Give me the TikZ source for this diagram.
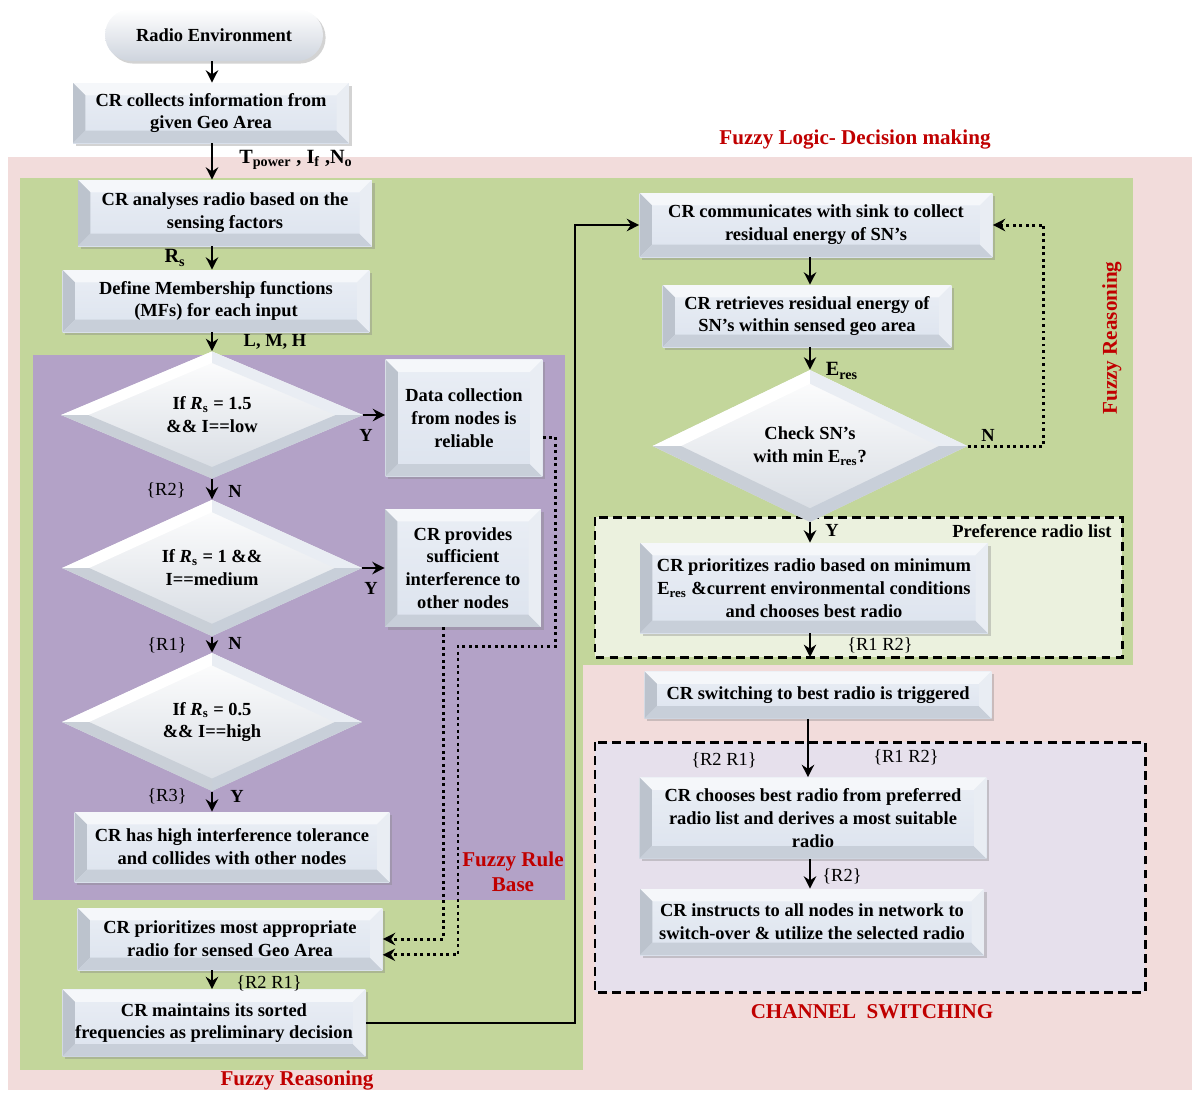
\documentclass[tikz,border=0pt]{standalone}
\usepackage{fontspec}
\setmainfont{Liberation Serif}
\usepackage{tikz}
\usetikzlibrary{arrows.meta,calc,positioning,shapes.geometric,shadows}
\definecolor{ZonePink}{HTML}{F2DCDB}
\definecolor{ZoneGreen}{HTML}{C3D69B}
\definecolor{ZonePurple}{HTML}{B3A2C7}
\definecolor{ListBG}{HTML}{EBF1DE}
\definecolor{SwitchBG}{HTML}{E6E0EC}
\definecolor{BoxFace}{HTML}{DCE3EE}
\definecolor{BevTop}{HTML}{F5F7FA}
\definecolor{BevLeft}{HTML}{BCC3CD}
\definecolor{BevBot}{HTML}{C8CFD9}
\definecolor{BevRight}{HTML}{E9EDF3}
\definecolor{DiaLow}{HTML}{D6DBE2}
\definecolor{TitleRed}{HTML}{C00000}
\newcommand{\ppbb}{path picture bounding box}

\begin{document}
\begin{tikzpicture}[
  x=0.02cm,y=-0.02cm,
  font=\fontsize{10.5}{13}\selectfont\bfseries,
  box/.style={
    rectangle,top color=BoxFace!60!white,bottom color=BoxFace,align=center,inner sep=2pt,
    drop shadow={shadow xshift=1.5pt,shadow yshift=-1.5pt,opacity=.35},
    path picture={
      \fill[BevTop] (\ppbb.north west) -- (\ppbb.north east)
        -- ([shift={(-7pt,-7pt)}]\ppbb.north east) -- ([shift={(7pt,-7pt)}]\ppbb.north west) -- cycle;
      \fill[BevLeft] (\ppbb.north west) -- (\ppbb.south west)
        -- ([shift={(7pt,7pt)}]\ppbb.south west) -- ([shift={(7pt,-7pt)}]\ppbb.north west) -- cycle;
      \fill[BevBot] (\ppbb.south west) -- (\ppbb.south east)
        -- ([shift={(-7pt,7pt)}]\ppbb.south east) -- ([shift={(7pt,7pt)}]\ppbb.south west) -- cycle;
      \fill[BevRight] (\ppbb.north east) -- (\ppbb.south east)
        -- ([shift={(-7pt,7pt)}]\ppbb.south east) -- ([shift={(-7pt,-7pt)}]\ppbb.north east) -- cycle;
    }
  },
  decision/.style={
    diamond,inner sep=0pt,align=center,top color=white,bottom color=DiaLow,
    path picture={
      \fill[white] (\ppbb.west) -- (\ppbb.north)
        -- ($(\ppbb.center)!.82!(\ppbb.north)$) -- ($(\ppbb.center)!.82!(\ppbb.west)$) -- cycle;
      \fill[BevRight] (\ppbb.north) -- (\ppbb.east)
        -- ($(\ppbb.center)!.82!(\ppbb.east)$) -- ($(\ppbb.center)!.82!(\ppbb.north)$) -- cycle;
      \fill[BevBot] (\ppbb.east) -- (\ppbb.south)
        -- ($(\ppbb.center)!.82!(\ppbb.south)$) -- ($(\ppbb.center)!.82!(\ppbb.east)$) -- cycle;
      \fill[BevLeft!80!white] (\ppbb.south) -- (\ppbb.west)
        -- ($(\ppbb.center)!.82!(\ppbb.west)$) -- ($(\ppbb.center)!.82!(\ppbb.south)$) -- cycle;
    }
  },
  terminal/.style={
    rectangle,rounded corners=0.52cm,top color=white,bottom color=BoxFace!85!gray,
    align=center,drop shadow={shadow xshift=1.5pt,shadow yshift=-1.5pt,opacity=.35}
  },
  flow/.style={draw,line width=1.5pt,-{Stealth[length=7pt,width=7pt]}},
  back/.style={draw,line width=1.7pt,dotted,-{Stealth[length=7pt,width=7pt]}},
  lab/.style={inner sep=1pt},
  rlab/.style={inner sep=1pt,font=\fontsize{10.5}{13}\selectfont},
  zonetitle/.style={text=TitleRed,align=center,font=\fontsize{12}{14}\selectfont\bfseries},
  listbox/.style={draw,dashed,dash pattern=on 5pt off 3pt,line width=1.7pt}
]
  \useasboundingbox (0,0) rectangle (1194,1093);

  % zones
  \fill[ZonePink] (8,157) rectangle (1192,1090);
  \fill[ZoneGreen] (20,178) rectangle (583,1070);
  \fill[ZoneGreen] (583,178) rectangle (1133,665);
  \fill[ZonePurple] (33,355) rectangle (565,900);
  \draw[listbox,fill=ListBG] (595,517) rectangle (1122,657);
  \draw[listbox,fill=SwitchBG] (595,742) rectangle (1145,992);

  % left column
  \node[terminal,minimum width=4.36cm,minimum height=1.04cm] (env) at (214,35) {Radio Environment};
  \node[box,minimum width=5.52cm,minimum height=1.2cm] (collect) at (211,113)
    {CR collects information from\\given Geo Area};
  \node[box,minimum width=5.88cm,minimum height=1.32cm] (analyse) at (225,213)
    {CR analyses radio based on the\\sensing factors};
  \node[box,minimum width=6.14cm,minimum height=1.24cm] (mf) at (216,301)
    {Define Membership functions\\(MFs) for each input};
  \node[decision,minimum width=6.04cm,minimum height=2.52cm] (d1) at (212,415)
    {If \textit{R}\textsubscript{s} = 1.5\\\&\& I==low};
  \node[box,minimum width=3.14cm,minimum height=2.34cm] (rel) at (464,418)
    {Data collection\\from nodes is\\reliable};
  \node[decision,minimum width=6cm,minimum height=2.6cm] (d2) at (212,568)
    {If \textit{R}\textsubscript{s} = 1 \&\&\\I==medium};
  \node[box,minimum width=3.12cm,minimum height=2.36cm] (suff) at (463,568)
    {CR provides\\sufficient\\interference to\\other nodes};
  \node[decision,minimum width=6cm,minimum height=2.64cm] (d3) at (212,722)
    {If \textit{R}\textsubscript{s} = 0.5\\\&\& I==high};
  \node[box,minimum width=6.3cm,minimum height=1.4cm] (tol) at (232,847)
    {CR has high interference tolerance\\and collides with other nodes};
  \node[box,minimum width=6.1cm,minimum height=1.24cm] (most) at (230,939)
    {CR prioritizes most appropriate\\radio for sensed Geo Area};
  \node[box,minimum width=6.06cm,minimum height=1.34cm] (sorted) at (214,1023)
    {CR maintains its sorted\\frequencies as preliminary decision};

  % right column
  \node[box,minimum width=7.06cm,minimum height=1.28cm] (sink) at (816,225)
    {CR communicates with sink to collect\\residual energy of SN’s};
  \node[box,minimum width=5.78cm,minimum height=1.24cm] (resid) at (807,316)
    {CR retrieves residual energy of\\SN’s within sensed geo area};
  \node[decision,minimum width=6.3cm,minimum height=2.8cm] (d4) at (810,446)
    {Check SN’s\\with min E\textsubscript{res}?};
  \node[box,minimum width=6.96cm,minimum height=1.8cm] (prio) at (814,588)
    {CR prioritizes radio based on minimum\\E\textsubscript{res} \&current environmental conditions\\and chooses best radio};
  \coordinate (listbot) at (810,657);
  \node[box,minimum width=6.94cm,minimum height=0.94cm] (trig) at (818,695)
    {CR switching to best radio is triggered};
  \node[box,minimum width=6.94cm,minimum height=1.62cm] (choose) at (813,818)
    {CR chooses best radio from preferred\\radio list and derives a most suitable\\radio};
  \node[box,minimum width=6.88cm,minimum height=1.32cm] (instruct) at (812,922)
    {CR instructs to all nodes in network to\\switch-over \& utilize the selected radio};

  % connectors
  \draw[flow] (env.south -| d1.north) -- (collect.north -| d1.north);
  \draw[flow] (collect.south -| d1.north) -- (analyse.north -| d1.north);
  \draw[flow] (analyse.south -| d1.north) -- (mf.north -| d1.north);
  \draw[flow] (mf.south -| d1.north) -- (d1.north);
  \draw[flow] (d1.south) -- (d2.north);
  \draw[flow] (d2.south) -- (d3.north);
  \draw[flow] (d3.south) -- (tol.north -| d3.south);
  \draw[flow] (d1.east) -- (d1.east -| rel.west);
  \draw[flow] (d2.east) -- (d2.east -| suff.west);
  \draw[back] ([yshift=-11pt]rel.east) -- ++(13,0) |- (458,646) |- ([yshift=-9pt]most.east);
  \draw[back] ([xshift=-11.3pt]suff.south) |- (most.east);
  \draw[flow] (most.south -| d1.north) -- (sorted.north -| d1.north);
  \draw[flow] (sorted.east) -- ++(209,0) |- (sink.west);
  \draw[flow] (sink.south -| d4.north) -- (resid.north -| d4.north);
  \draw[flow] (resid.south -| d4.north) -- (d4.north);
  \draw[back] (d4.east) -- ++(76,0) |- (sink.east);
  \draw[flow] (d4.south) -- (prio.north -| d4.south);
  \draw[flow] (prio.south -| listbot) -- (listbot);
  \draw[flow] ([xshift=-5.7pt]trig.south) -- ([xshift=-5.7pt]trig.south |- choose.north);
  \draw[flow] (choose.south -| d4.south) -- (instruct.north -| d4.south);

  % labels
  \node[lab,font=\fontsize{11.5}{13}\selectfont\bfseries] (lpow) at (296,160)
    {T\textsubscript{power} , I\textsubscript{f} ,N\textsubscript{o}};
  \node[lab,font=\fontsize{11.5}{13}\selectfont\bfseries] (lrs) at (175,258) {R\textsubscript{s}};
  \node[lab] (llmh) at (275,342) {L, M, H};
  \node[lab] (ly1) at (366,435) {Y};
  \node[rlab] (lr2) at (166,490) {\{R2\}};
  \node[lab] (ln1) at (235,491) {N};
  \node[lab] (ly2) at (371,588) {Y};
  \node[rlab] (lr1) at (167,645) {\{R1\}};
  \node[lab] (ln2) at (235,643) {N};
  \node[rlab] (lr3) at (167,796) {\{R3\}};
  \node[lab] (ly3) at (237,796) {Y};
  \node[rlab] (lr21a) at (269,983) {\{R2 R1\}};
  \node[lab,font=\fontsize{11.5}{13}\selectfont\bfseries] (leres) at (842,371) {E\textsubscript{res}};
  \node[lab] (ln4) at (988,435) {N};
  \node[lab] (ly4) at (832,530) {Y};
  \node[lab] (lpref) at (1032,531) {Preference radio list};
  \node[rlab] (lr12a) at (880,645) {\{R1 R2\}};
  \node[rlab] (lr21b) at (724,760) {\{R2 R1\}};
  \node[rlab] (lr12b) at (906,757) {\{R1 R2\}};
  \node[rlab] (lr2b) at (842,876) {\{R2\}};

  % zone titles
  \node[zonetitle] (tdecide) at (855,140) {Fuzzy Logic- Decision making};
  \node[zonetitle,rotate=90] (treasonr) at (1112,338) {Fuzzy Reasoning};
  \node[zonetitle] (trule) at (513,872) {Fuzzy Rule\\Base};
  \node[zonetitle] (treasonl) at (297,1080) {Fuzzy Reasoning};
  \node[zonetitle] (tswitch) at (872,1012) {CHANNEL\ \ SWITCHING};
\end{tikzpicture}
\end{document}
